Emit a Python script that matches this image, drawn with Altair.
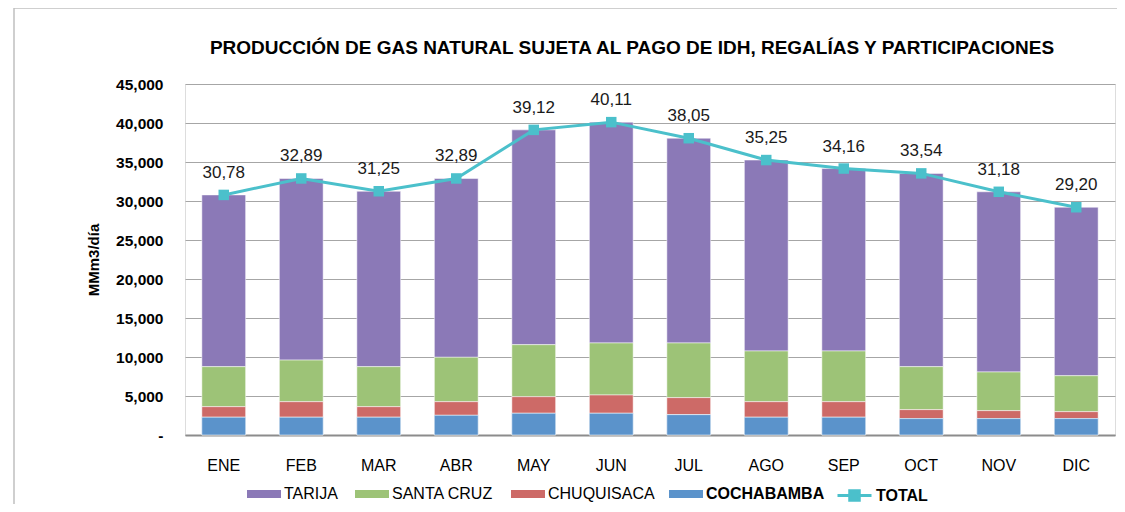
import altair as alt
import pandas as pd

months = ["ENE", "FEB", "MAR", "ABR", "MAY", "JUN", "JUL", "AGO", "SEP", "OCT", "NOV", "DIC"]
cochabamba = [2270, 2270, 2270, 2520, 2780, 2780, 2610, 2270, 2270, 2100, 2100, 2100]
chuquisaca = [1360, 2000, 1360, 1750, 2130, 2350, 2180, 2000, 2000, 1150, 1020, 890]
santa_cruz = [5130, 5330, 5130, 5690, 6670, 6670, 7010, 6500, 6500, 5510, 4960, 4610]
tarija = [22020, 23290, 22490, 22930, 27540, 28310, 26250, 24480, 23390, 24780, 23100, 21600]
total = [30780, 32890, 31250, 32890, 39120, 40110, 38050, 35250, 34160, 33540, 31180, 29200]
total_labels = ["30,78", "32,89", "31,25", "32,89", "39,12", "40,11", "38,05", "35,25", "34,16", "33,54", "31,18", "29,20"]
title_text = "PRODUCCIÓN DE GAS NATURAL SUJETA AL PAGO DE IDH, REGALÍAS Y PARTICIPACIONES"

series = ["TARIJA", "SANTA CRUZ", "CHUQUISACA", "COCHABAMBA"]
colors = ["#8B79B7", "#9DC377", "#CD6A67", "#5B93CB"]
stack_order = {"COCHABAMBA": 0, "CHUQUISACA": 1, "SANTA CRUZ": 2, "TARIJA": 3}
values = {"TARIJA": tarija, "SANTA CRUZ": santa_cruz, "CHUQUISACA": chuquisaca, "COCHABAMBA": cochabamba}

rows = []
for s in series:
    for m, v in zip(months, values[s]):
        rows.append({"mes": m, "serie": s, "valor": v, "ord": stack_order[s]})
bars_df = pd.DataFrame(rows)
cocha_df = pd.DataFrame({"mes": months, "valor": cochabamba, "serie": ["COCHABAMBA"] * 12})
tot_df = pd.DataFrame({"mes": months, "total": total, "label": total_labels, "serie": ["TOTAL"] * 12})

FONT = "Liberation Sans"
TEAL = "#4BC0CB"
RECT_SYM = "M-1,-0.235H1V0.235H-1Z"
LINE_SYM = "M-1,0H1M-0.28,-0.28H0.28V0.28H-0.28Z"
LEG_Y = 393

x_enc = alt.X("mes:N", sort=months, title=None,
              scale=alt.Scale(paddingInner=0.435, paddingOuter=0.2175),
              axis=alt.Axis(labelFontSize=16, labelColor="#000000", labelPadding=22, ticks=False,
                            domain=True, domainColor="#8C8C8C", domainWidth=2, grid=False,
                            labelAngle=0, labelFont=FONT))
y_scale = alt.Scale(domain=[0, 45000], nice=False)
y_axis = alt.Axis(values=list(range(0, 45001, 5000)), labelOverlap=False,
                  labelExpr="datum.value == 0 ? '-' : format(datum.value, ',')",
                  labelFontSize=15.5, labelFontWeight="bold", labelColor="#000000",
                  labelPadding=22, ticks=False, domain=False, grid=True,
                  gridColor="#A6A6A6", gridWidth=1, titleFontSize=15,
                  titleFontWeight="bold", titleColor="#000000", titlePadding=14,
                  labelFont=FONT, titleFont=FONT)
x_plain = alt.X("mes:N", sort=months)

bars = alt.Chart(bars_df).mark_bar(stroke="#FFFFFF", strokeOpacity=0.5, strokeWidth=1).encode(
    x=x_enc,
    y=alt.Y("valor:Q", stack="zero", scale=y_scale, title="MMm3/día", axis=y_axis),
    fill=alt.Fill("serie:N", scale=alt.Scale(domain=series, range=colors),
                  legend=alt.Legend(title=None, orient="none", direction="horizontal",
                                    values=series[:3],
                                    legendX=62, legendY=LEG_Y, symbolType=RECT_SYM,
                                    symbolSize=1156, symbolStrokeWidth=0, labelFontSize=16,
                                    labelColor="#000000", columnPadding=17, labelOffset=3,
                                    labelFont=FONT, symbolOpacity=1)),
    order=alt.Order("ord:Q", sort="ascending"),
)

cocha = alt.Chart(cocha_df).mark_bar(stroke="#FFFFFF", strokeOpacity=0.5, strokeWidth=1).encode(
    x=x_plain,
    y=alt.Y("valor:Q", scale=y_scale, title="MMm3/día", axis=y_axis),
    color=alt.Color("serie:N", scale=alt.Scale(domain=["COCHABAMBA"], range=[colors[3]]),
                    legend=alt.Legend(title=None, orient="none", legendX=484, legendY=LEG_Y,
                                      symbolType=RECT_SYM, symbolSize=1156, symbolStrokeWidth=0,
                                      labelFontSize=16, labelFontWeight="bold", labelColor="#000000",
                                      labelOffset=3, labelFont=FONT, symbolOpacity=1)),
)

line = alt.Chart(tot_df).mark_line(strokeWidth=3, color=TEAL).encode(
    x=x_plain,
    y=alt.Y("total:Q", scale=y_scale, title="MMm3/día", axis=y_axis),
)
pts = alt.Chart(tot_df).mark_point(shape="square", filled=True, size=110, opacity=1).encode(
    x=x_plain,
    y=alt.Y("total:Q", scale=y_scale, title="MMm3/día", axis=y_axis),
    color=alt.Color("serie:N", scale=alt.Scale(domain=["TOTAL"], range=[TEAL]),
                    legend=alt.Legend(title=None, orient="none", legendX=651, legendY=LEG_Y,
                                      symbolType=LINE_SYM, symbolSize=1156,
                                      symbolStrokeColor=TEAL, symbolFillColor=TEAL,
                                      symbolStrokeWidth=3, labelFontSize=16, labelFontWeight="bold",
                                      labelColor="#000000", labelOffset=3, labelFont=FONT,
                                      symbolOpacity=1)),
)
txt = alt.Chart(tot_df).mark_text(dy=-22, fontSize=17, color="#1A1A1A", font=FONT, baseline="middle").encode(
    x=x_plain,
    y=alt.Y("total:Q", scale=y_scale, title="MMm3/día", axis=y_axis),
    text="label:N",
)

title = alt.Chart(pd.DataFrame({"t": [title_text]})).mark_text(
    fontSize=19, fontWeight="bold", color="#000000", font=FONT, align="center", baseline="middle"
).encode(x=alt.value(447), y=alt.value(-36), text="t:N")

frame_df = pd.DataFrame({"a": [0]})
border_top = alt.Chart(frame_df).mark_rule(stroke="#BFBFBF", strokeWidth=1.5).encode(
    x=alt.value(-171), x2=alt.value(960), y=alt.value(-76)
)
border_left = alt.Chart(frame_df).mark_rule(stroke="#BFBFBF", strokeWidth=1.5).encode(
    x=alt.value(-171), y=alt.value(-76), y2=alt.value(480)
)

chart = alt.layer(border_top, border_left, bars, cocha, line, pts, txt, title).resolve_scale(
    color="independent"
).resolve_legend(color="independent", fill="independent").properties(
    width=930, height=351,
    autosize=alt.AutoSizeParams(type="none"),
    padding={"left": 177, "top": 76, "right": 2, "bottom": 69},
).configure_view(strokeWidth=0, stroke="transparent").configure(background="#FFFFFF")

chart.save("out.html", embed_options={"renderer": "svg", "actions": False})
